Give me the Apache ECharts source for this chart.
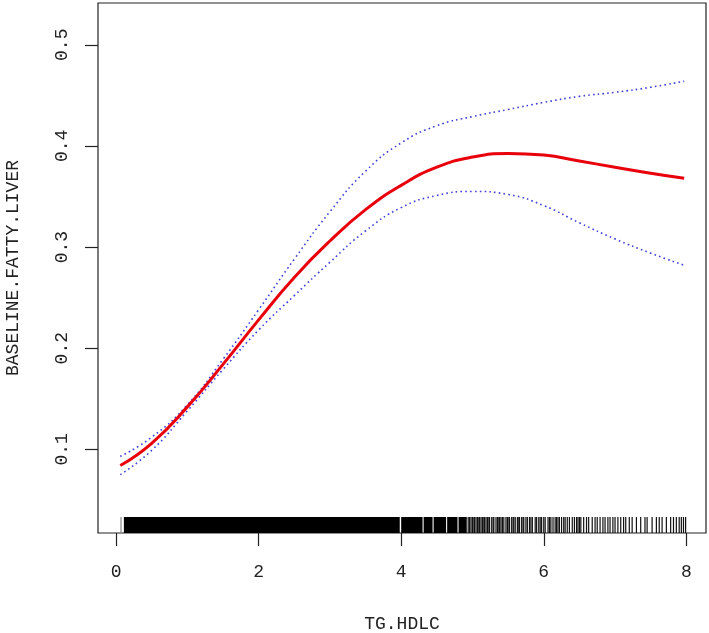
<!DOCTYPE html>
<html>
<head>
<meta charset="utf-8">
<script src="https://cdn.jsdelivr.net/npm/echarts@6/dist/echarts.min.js"></script>
<style>
    html, body { margin: 0; padding: 0; background: #fff; }
    #chart { width: 709px; height: 633px; }
</style>
</head>
<body>
<div id="chart"></div>
<script>
// x grid of the fitted curve
var tgHdlc = [0.06, 0.5, 1.0, 1.5, 2.0, 2.5, 3.0, 3.5, 4.0, 4.5, 5.0, 5.5, 6.0, 6.5, 7.0, 7.5, 7.97];
var fitValues = [0.084, 0.106, 0.142, 0.184, 0.228, 0.270, 0.306, 0.337, 0.361, 0.379, 0.389, 0.3925, 0.391, 0.385, 0.379, 0.373, 0.368];
var upperValues = [0.093, 0.112, 0.144, 0.189, 0.238, 0.288, 0.335, 0.375, 0.403, 0.420, 0.429, 0.436, 0.443, 0.449, 0.453, 0.458, 0.464];
var lowerValues = [0.075, 0.099, 0.138, 0.179, 0.218, 0.252, 0.285, 0.316, 0.339, 0.351, 0.355, 0.352, 0.341, 0.324, 0.308, 0.294, 0.282];

// rug: stretches that are solid black, then single ticks
var rugBands = [[0.11, 3.98], [4.0, 4.30], [4.315, 4.44], [4.455, 4.63], [4.645, 4.79], [4.805, 4.92]];
var rugTicks = [0.07,
    4.94, 4.96, 4.98, 5.0, 5.02, 5.03, 5.05, 5.07, 5.08, 5.1, 5.12, 5.14, 5.15, 5.17, 5.19, 5.21, 5.22, 5.24,
    5.27, 5.29, 5.3, 5.33, 5.35, 5.37, 5.38, 5.4, 5.42, 5.44, 5.47, 5.49, 5.5, 5.52, 5.55, 5.57, 5.58, 5.6,
    5.63, 5.65, 5.66, 5.69, 5.71, 5.72, 5.75, 5.77,
    5.8, 5.82, 5.84, 5.88, 5.9, 5.93, 5.95, 5.97, 6.0, 6.02, 6.06, 6.08, 6.1, 6.13, 6.16, 6.18, 6.2, 6.22, 6.25,
    6.28, 6.3, 6.33, 6.36, 6.4, 6.43, 6.46, 6.48, 6.5, 6.52, 6.56, 6.6, 6.63,
    6.68, 6.72, 6.75, 6.79, 6.83, 6.86, 6.9, 6.93, 6.97, 7.0, 7.04, 7.08, 7.12, 7.15, 7.2, 7.24, 7.3, 7.36,
    7.42, 7.45, 7.52, 7.58, 7.62, 7.66, 7.72, 7.78, 7.82, 7.86, 7.9, 7.93, 7.96, 7.99];

var xTicks = [0, 2, 4, 6, 8];
var yTicks = [0.1, 0.2, 0.3, 0.4, 0.5];

var FONT = '"Liberation Mono", "DejaVu Sans Mono", monospace';
var RUG_H = 16;
var Y_MIN = 0.0173;

function pairs(xs, ys) {
    return xs.map(function (x, i) { return [x, ys[i]]; });
}

// first tick (before the solid block) is drawn grey
function rugColor(idx) {
    return idx === 0 ? '#888' : '#111';
}

var chart = echarts.init(document.getElementById('chart'));

var dotted = { color: '#4040d8', width: 1.6, type: [1.6, 3.2] };

var option = {
    animation: false,
    backgroundColor: '#fff',
    grid: {
        left: 98, right: 3, top: 3, bottom: 100,
        outerBoundsMode: 'none',
        containLabel: false,
        show: true, borderColor: '#222', borderWidth: 1.2, backgroundColor: 'transparent'
    },
    xAxis: {
        type: 'value',
        min: -0.253,
        max: 8.276,
        name: 'TG.HDLC',
        nameLocation: 'middle',
        nameGap: 82,
        nameMoveOverlap: false,
        nameTextStyle: { fontFamily: FONT, fontSize: 18, color: '#222' },
        axisLine: { show: false, onZero: false },
        splitLine: { show: false },
        axisTick: { show: true, length: 13, customValues: xTicks, lineStyle: { color: '#222', width: 1.2 } },
        axisLabel: { customValues: xTicks, margin: 30, fontFamily: FONT, fontSize: 18, color: '#222' }
    },
    yAxis: {
        type: 'value',
        min: Y_MIN,
        max: 0.5413,
        name: 'BASELINE.FATTY.LIVER',
        nameLocation: 'middle',
        nameGap: 76,
        nameMoveOverlap: false,
        nameTextStyle: { fontFamily: FONT, fontSize: 18, color: '#222' },
        axisLine: { show: false, onZero: false },
        splitLine: { show: false },
        axisTick: { show: true, length: 13, customValues: yTicks, lineStyle: { color: '#222', width: 1.2 } },
        axisLabel: {
            customValues: yTicks, rotate: 90, margin: 27,
            fontFamily: FONT, fontSize: 18, color: '#222',
            formatter: function (v) { return v.toFixed(1); }
        }
    },
    series: [
        {
            type: 'custom',
            silent: true,
            data: rugBands,
            encode: { x: [0, 1] },
            renderItem: function (params, api) {
                var p0 = api.coord([api.value(0), Y_MIN]);
                var p1 = api.coord([api.value(1), Y_MIN]);
                return {
                    type: 'rect',
                    shape: { x: p0[0], y: p0[1] - RUG_H, width: p1[0] - p0[0], height: RUG_H },
                    style: { fill: '#000' }
                };
            }
        },
        {
            type: 'custom',
            silent: true,
            data: rugTicks.map(function (v) { return [v]; }),
            encode: { x: 0 },
            renderItem: function (params, api) {
                var p = api.coord([api.value(0), Y_MIN]);
                return {
                    type: 'line',
                    shape: { x1: p[0], y1: p[1], x2: p[0], y2: p[1] - RUG_H },
                    style: { stroke: rugColor(params.dataIndex), lineWidth: 1.2 }
                };
            }
        },
        {
            type: 'line',
            data: pairs(tgHdlc, upperValues),
            smooth: true,
            showSymbol: false,
            lineStyle: dotted
        },
        {
            type: 'line',
            data: pairs(tgHdlc, lowerValues),
            smooth: true,
            showSymbol: false,
            lineStyle: dotted
        },
        {
            type: 'line',
            data: pairs(tgHdlc, fitValues),
            smooth: true,
            showSymbol: false,
            lineStyle: { color: '#e8000b', width: 3 }
        }
    ]
};

chart.setOption(option);
</script>
</body>
</html>
